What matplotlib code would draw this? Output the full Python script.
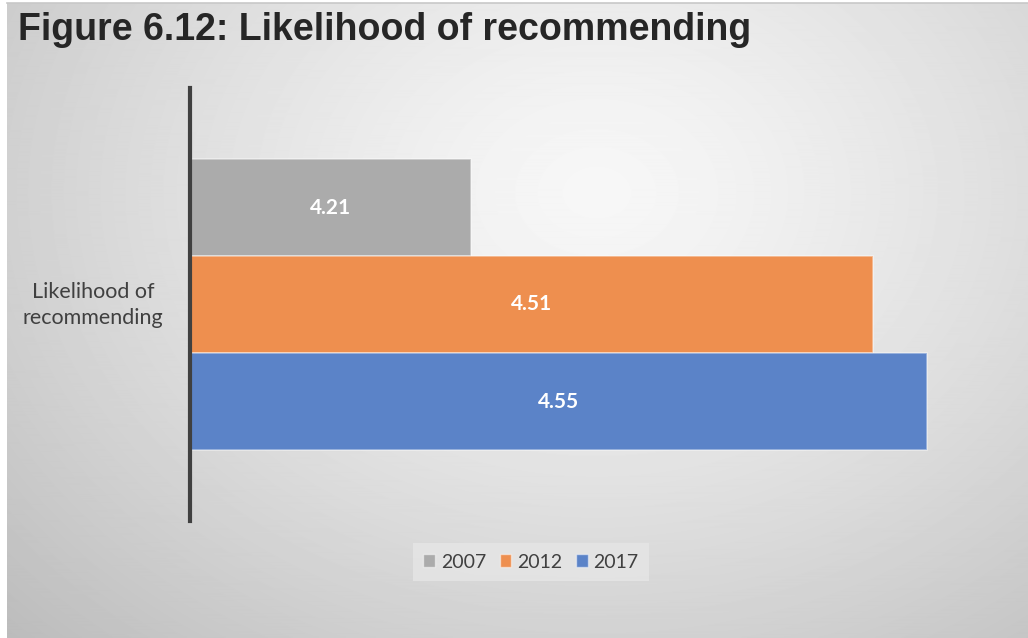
import numpy as np
import matplotlib.pyplot as plt
from matplotlib.patches import Patch

category = 'Likelihood of\nrecommending'
years = ['2007', '2012', '2017']
scores = [4.21, 4.51, 4.55]
bar_colors = ['#ababab', '#ee8f4f', '#5b83c8']

W, H = 1028, 638
fig = plt.figure(figsize=(W / 100, H / 100), dpi=100)
fig.patch.set_facecolor('white')

# soft radial grey backdrop behind everything
bg = fig.add_axes([7 / W, 0, 1 - 7 / W, 1 - 3 / H], zorder=0)
yy, xx = np.mgrid[0:H, 0:W - 7]
r = np.sqrt(((xx - 590) / 720.0) ** 2 + ((yy - 190) / 560.0) ** 2)
shade = np.clip(247 - 50 * r ** 1.3, 185, 247) / 255.0
bg.imshow(shade, cmap='gray', vmin=0, vmax=1, aspect='auto',
          extent=[0, 1, 0, 1], interpolation='bilinear')
bg.axis('off')
fig.add_artist(plt.Line2D([7 / W, 1], [1 - 3 / H, 1 - 3 / H], color='#c8c8c8', lw=1.2))

fig.text(18 / W, 1 - 30 / H, 'Figure 6.12: Likelihood of recommending',
         family=['Liberation Sans Narrow', 'Liberation Sans'], weight='bold',
         fontsize=27, color='#262626', va='center', ha='left')

ax = fig.add_axes([190 / W, 1 - 521 / H, 804 / W, 433 / H], zorder=2)
ax.patch.set_alpha(0)
pos = np.arange(len(years))
bars = ax.barh(pos, [s - 4.0 for s in scores], left=4.0, height=1.0,
               color=bar_colors, edgecolor=(1, 1, 1, 0.45), linewidth=1.2)
for p, s in zip(pos, scores):
    ax.text(4.0 + (s - 4.0) / 2, p, f'{s:.2f}', ha='center', va='center',
            color='white', fontsize=15, weight='bold', family='Lato')

gap = 71 / 97
ax.set_ylim(2.5 + gap, -0.5 - gap)
ax.set_xlim(4.0, 4.6)
ax.set_xticks([])
ax.set_yticks([])
for side in ['top', 'right', 'bottom']:
    ax.spines[side].set_visible(False)
ax.spines['left'].set_color('#404040')
ax.spines['left'].set_linewidth(3)

fig.text(93 / W, 1 - 305 / H, category, ha='center', va='center',
         fontsize=15.5, color='#404040', family='Lato', linespacing=1.4)

handles = [Patch(facecolor=c, edgecolor=(1, 1, 1, 0.5), label=y)
           for c, y in zip(bar_colors, years)]
leg = fig.legend(handles=handles, loc='center', bbox_to_anchor=(531 / W, 1 - 562 / H),
                 ncol=3, frameon=True, handlelength=0.6, handleheight=0.6,
                 handletextpad=0.3, columnspacing=0.7, borderpad=0.55,
                 prop={'family': 'Lato', 'size': 14})
leg.get_frame().set_facecolor((0.9, 0.9, 0.9, 0.8))
leg.get_frame().set_edgecolor('none')
leg.get_frame().set_boxstyle('square', pad=0)
for t in leg.get_texts():
    t.set_color('#404040')

fig.savefig('out.png', dpi=100)
